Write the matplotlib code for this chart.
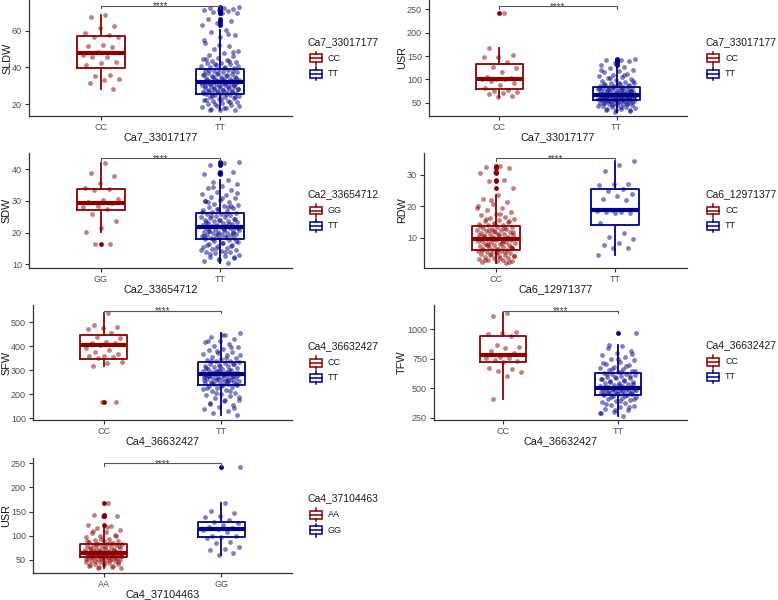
import matplotlib
matplotlib.use('Agg')
import matplotlib.pyplot as plt
from matplotlib.patches import Rectangle
from matplotlib.lines import Line2D

plt.rcParams['font.family'] = ['Liberation Sans', 'DejaVu Sans']

RED = '#8B0000'
BLUE = '#00008B'

# ---------------- data ----------------
# Panel 1: SLDW by Ca7_33017177
p1_snp = 'Ca7_33017177'
p1_trait = 'SLDW'
p1_geno = ['CC', 'TT']
p1_cc = [68.5, 67.6, 62.5, 61.6, 58.9, 57.6, 56.7, 56.3, 52.4, 51.6, 51.2, 48.5, 46.7, 45.8,
         45.5, 43.1, 42.2, 41.3, 36.0, 35.3, 33.8, 33.1, 31.3, 28.0]
p1_tt = [72.8, 72.5, 72.2, 71.8, 71.5, 71.0, 70.6, 70.2, 69.8, 69.4, 66.2, 65.5, 64.1, 62.9,
         60.5, 59.2, 57.8, 56.3, 53.5, 51.7, 50.2, 49.0, 47.6, 46.8, 46.0, 45.3,
         44.8, 44.1, 43.6, 43.0, 42.6, 42.1, 41.7, 41.2, 40.8, 40.4, 40.0, 39.6,
         39.1, 38.7, 38.3, 38.0, 37.6, 37.2, 36.9, 36.5, 36.1, 35.8, 35.4, 35.1, 34.8, 34.5,
         34.2, 33.9, 33.6, 33.3, 33.1, 32.8, 32.6, 32.4, 32.2, 32.0, 31.9,
         31.7, 31.5, 31.2, 31.0, 30.7, 30.4, 30.1, 29.8, 29.5, 29.2, 28.9, 28.6, 28.3, 28.0,
         27.7, 27.4, 27.1, 26.9, 26.6, 26.4, 26.1, 25.9, 25.7, 25.5,
         25.1, 24.8, 24.4, 24.0, 23.6, 23.2, 22.7, 22.3, 21.8, 21.4, 20.9, 20.4, 19.9, 19.4,
         18.8, 18.2, 17.7, 17.2, 16.8, 16.5,
         44.5, 43.3, 41.9, 40.6, 39.4, 38.5, 37.8, 37.0, 36.3, 35.6, 34.9, 34.3, 33.7, 33.2,
         32.7, 32.3, 31.8, 31.4, 30.9, 30.5, 30.0, 29.6, 29.1, 28.7, 28.2, 27.8, 27.3, 26.8,
         26.3, 25.8, 25.4, 24.6, 23.8, 23.0, 22.1, 21.2, 20.2, 19.1, 18.0, 17.0, 48.3, 52.4,
         55.1, 58.4]
p1_box = [(28.0, 39.8, 48.0, 57.2, 68.5), (16.5, 25.3, 31.8, 39.3, 60.5)]
p1_out = [[], [62.9, 64.1, 65.5, 66.2, 69.4, 69.8, 70.2, 70.6, 71.0, 71.5, 71.8, 72.2, 72.5, 72.8]]

# Panel 2: USR by Ca7_33017177
p2_snp = 'Ca7_33017177'
p2_trait = 'USR'
p2_geno = ['CC', 'TT']
p2_cc = [242.7, 166.5, 153, 148.5, 147, 138, 127, 123.5, 116.5, 104, 102, 101.4, 101, 100,
         97, 91.4, 88, 80.7, 77, 75.7, 73.6, 71, 68.6, 64, 63]
p2_tt = [143.5, 142, 140.5, 139, 136, 131,
         127, 124, 121, 118, 115, 112, 109.5, 107, 104.5, 102, 100, 98, 96, 94.5, 93, 91.5,
         90, 88.5, 87.3, 86, 85,
         84, 83.2, 82.4, 81.6, 80.8, 80, 79.2, 78.4, 77.6, 76.8, 76, 75.2, 74.4, 73.6, 72.8,
         72, 71.3, 70.6, 69.9, 69.2, 68.6, 68, 67.4, 66.9,
         66.2, 65.7, 65.2, 64.7, 64.2, 63.7, 63.2, 62.7, 62.2, 61.7, 61.2, 60.7, 60.2, 59.7,
         59.2, 58.7, 58.2, 57.7, 57.2, 56.7, 56.2,
         55.4, 54.8, 54.1, 53.4, 52.6, 51.8, 51, 50.1, 49.2, 48.3, 47.3, 46.3, 45.2, 44,
         42.7, 41.3, 39.8, 38.2, 36.5, 34.6, 32.8, 31,
         120, 110, 103, 97, 92, 89, 85.5, 83.5, 81, 78.8, 76.4, 74, 71.6, 69.5, 67.6, 65.9,
         64.5, 63, 61.5, 60, 58.5, 57, 55.8, 54.5, 52, 50.5, 48.8, 47, 45, 43, 40.5, 37.5,
         35, 33.5]
p2_box = [(63, 78.7, 100, 132, 166.5), (31, 55.8, 66.5, 84.3, 127)]
p2_out = [[242.7], [131, 136, 139, 140.5, 142, 143.5]]

# Panel 3: SDW by Ca2_33654712
p3_snp = 'Ca2_33654712'
p3_trait = 'SDW'
p3_geno = ['GG', 'TT']
p3_gg = [41.9, 38.9, 37.7, 35.6, 34.2, 33.7, 33.5, 30.5, 30.2, 29.5, 29.3, 28.4, 28.2, 27.4,
         25.7, 23.5, 21.4, 20.3, 16.3, 16.3]
p3_tt = [42.4, 41.9, 41.4, 39.2, 38.9, 38.4,
         36.5, 35.8, 35.2, 34.6, 34.0, 33.4, 32.9, 32.3, 31.8, 31.3, 30.8, 30.3, 29.9, 29.5,
         29.1, 28.7, 28.3, 27.9, 27.6, 27.3, 27.0, 26.7, 26.5,
         26.1, 25.9, 25.7, 25.5, 25.2, 25.0, 24.8, 24.6, 24.3, 24.1, 23.9, 23.7, 23.5, 23.3,
         23.1, 22.9, 22.7, 22.5, 22.3, 22.1, 21.9, 21.8,
         21.6, 21.4, 21.3, 21.1, 20.9, 20.8, 20.6, 20.4, 20.3, 20.1, 19.9, 19.8, 19.6, 19.4,
         19.3, 19.1, 18.9, 18.8, 18.6, 18.4, 18.3, 18.2,
         17.9, 17.6, 17.3, 17.0, 16.7, 16.4, 16.1, 15.8, 15.5, 15.2, 14.9, 14.6, 14.3, 14.0,
         13.7, 13.4, 13.0, 12.6, 12.2, 11.8, 11.4, 11.0, 10.5,
         34.3, 32.6, 31.0, 29.7, 28.5, 27.4, 26.6, 25.8, 25.1, 24.4, 23.8, 23.2, 22.6, 22.0,
         21.5, 21.0, 20.5, 20.0, 19.5, 19.0, 18.5, 18.0, 17.4, 16.8, 16.2, 15.6, 15.0, 14.4,
         13.8, 13.2, 12.4, 11.6, 30.0, 28.0]
p3_box = [(20.3, 27.2, 29.4, 33.8, 41.9), (10.5, 18.1, 21.7, 26.3, 36.5)]
p3_out = [[16.3], [38.4, 38.9, 39.2, 41.4, 41.9, 42.4]]

# Panel 4: RDW by Ca6_12971377
p4_snp = 'Ca6_12971377'
p4_trait = 'RDW'
p4_geno = ['CC', 'TT']
p4_cc = [33.0, 32.6, 32.1, 30.9, 30.5, 28.5, 28.2, 25.8,
         23.6, 22.4, 21.5, 20.7, 20.0, 19.3, 18.7, 18.1, 17.6, 17.1, 16.7, 16.3, 15.9, 15.6,
         15.3, 15.0, 14.7, 14.4, 14.1, 13.9,
         13.5, 13.3, 13.1, 12.9, 12.7, 12.5, 12.3, 12.1, 11.9, 11.7, 11.5, 11.3, 11.1, 10.9,
         10.7, 10.5, 10.3, 10.1, 9.9, 9.7,
         9.5, 9.3, 9.1, 8.9, 8.7, 8.5, 8.3, 8.1, 7.9, 7.7, 7.5, 7.3, 7.1, 6.9, 6.7, 6.5, 6.3, 6.2,
         6.0, 5.8, 5.6, 5.4, 5.2, 5.0, 4.8, 4.6, 4.4, 4.2, 4.0, 3.8, 3.6, 3.4, 3.2, 3.0, 2.8,
         2.6, 2.4, 2.2, 2.0,
         22.0, 19.6, 17.4, 16.0, 15.2, 14.5, 13.8, 13.0, 12.4, 11.8, 11.2, 10.6, 10.0, 9.4,
         8.8, 8.2, 7.6, 7.0, 6.4, 5.9, 5.3, 4.7, 4.1, 3.5, 2.9, 2.3, 12.0, 10.8, 9.0, 7.8,
         6.6, 5.5]
p4_tt = [34.3, 33.2, 31.4, 27.1, 27.1, 26.8, 25.4, 25.0, 23.9, 23.3, 22.2, 22.0, 18.8, 18.5,
         18.3, 18.3, 18.0, 18.0, 14.8, 11.6, 10.1, 9.7, 8.4, 7.7, 6.6, 6.6, 4.5]
p4_box = [(2.0, 6.1, 9.6, 13.7, 23.6), (4.5, 14.0, 18.7, 25.4, 34.3)]
p4_out = [[25.8, 28.2, 28.5, 30.5, 30.9, 32.1, 32.6, 33.0], []]

# Panel 5: SFW by Ca4_36632427
p5_snp = 'Ca4_36632427'
p5_trait = 'SFW'
p5_geno = ['CC', 'TT']
p5_cc = [540, 489, 482, 475, 471, 457, 440, 433, 419, 412, 412, 406, 392, 385, 378, 368,
         361, 360, 357, 350, 336, 332, 318, 167, 167]
p5_tt = [454, 447, 440, 432, 424, 417, 410, 403, 396, 390, 384, 378, 372, 367, 362, 357, 352,
         348, 344, 340, 337, 335,
         331, 328, 325, 322, 319, 316, 313, 310, 307, 304, 301, 298, 296, 294, 292, 290, 288,
         286, 285, 284,
         282, 280, 278, 276, 274, 272, 270, 268, 266, 264, 262, 260, 258, 256, 254, 252, 250,
         248, 246, 244, 242, 240,
         237, 233, 229, 225, 221, 217, 212, 207, 202, 197, 191, 185, 178, 171, 164, 156, 148,
         140, 131, 122, 115,
         445, 420, 398, 380, 365, 350, 338, 326, 318, 309, 300, 293, 287, 281, 277, 271, 265,
         259, 253, 247, 241, 235, 226, 215, 204, 190, 175, 160, 145, 300, 280, 260]
p5_box = [(318, 346, 404, 447, 540), (115, 239, 283, 333, 454)]
p5_out = [[167], []]

# Panel 6: TFW by Ca4_36632427
p6_snp = 'Ca4_36632427'
p6_trait = 'TFW'
p6_geno = ['CC', 'TT']
p6_cc = [1141, 1108, 981, 967, 959, 939, 868, 853, 840, 812, 798, 769, 761, 756, 741, 733,
         727, 671, 662, 650, 642, 608, 408]
p6_tt = [966,
         855, 838, 820, 802, 785, 768, 752, 737, 722, 708, 695, 683, 672, 662, 653, 645, 638, 632,
         626, 619, 612, 605, 598, 591, 584, 577, 570, 563, 556, 549, 542, 536, 530, 524, 518,
         513, 509,
         503, 499, 495, 491, 487, 483, 479, 475, 471, 467, 463, 459, 455, 451, 447, 444,
         437, 429, 421, 412, 403, 394, 384, 374, 363, 352, 340, 328, 315, 302, 288, 271,
         870, 790, 745, 715, 690, 666, 648, 635, 622, 608, 594, 580, 566, 552, 539, 527, 515,
         504, 497, 489, 481, 473, 465, 457, 449, 440, 425, 408, 390, 368, 345, 320, 295]
p6_box = [(408, 723, 781, 943, 1141), (271, 441, 506, 630, 870)]
p6_out = [[], [966]]

# Panel 7: USR by Ca4_37104463
p7_snp = 'Ca4_37104463'
p7_trait = 'USR'
p7_geno = ['AA', 'GG']
p7_aa = [167, 143, 141.5, 140, 122,
         120, 116, 112, 108.5, 105, 102, 99, 96.5, 94, 92, 90, 88.5, 87, 85.5, 84, 83,
         82.3, 81.2, 80.1, 79, 77.9, 76.8, 75.7, 74.6, 73.5, 72.5, 71.5, 70.5, 69.6, 68.7,
         67.8, 66.9, 66.1, 65.4,
         64.8, 64.3, 63.8, 63.3, 62.8, 62.3, 61.8, 61.3, 60.8, 60.3, 59.8, 59.3, 58.8, 58.3,
         57.8, 57.3,
         56.6, 55.8, 55, 54.2, 53.4, 52.5, 51.6, 50.7, 49.7, 48.7, 47.6, 46.5, 45.3, 44, 42.6,
         41.1, 39.5, 37.8, 36, 34.2, 33,
         118, 110, 100, 93, 89, 85, 82, 79.5, 77, 74, 71, 69, 67.2, 65.8, 64.5, 63.5, 62.5,
         61.5, 60.5, 59.5, 58.5, 57.5, 56.2, 54.6, 53, 51, 49.2, 47, 45, 43.3, 40, 37, 35]
p7_gg = [241.5, 168.4, 151.2, 147.7, 140.9, 138.2, 132.6, 129.1, 127, 122.3, 118.8, 115.5,
         113.4, 112, 108.5, 99.6, 99.6, 98.1, 94.8, 87.8, 84.5, 77.5, 72.1, 70.7, 65.1, 60.3]
p7_box = [(33, 57, 65, 82.8, 120), (60.3, 98, 113.4, 129, 168.4)]
p7_out = [[122, 140, 141.5, 143, 167], [241.5]]

# ---------------- layout (pixels) ----------------
W, H = 778, 600
fig = plt.figure(figsize=(W / 100, H / 100), dpi=100)

panels = [
    dict(snp=p1_snp, trait=p1_trait, geno=p1_geno, vals=[p1_cc, p1_tt], box=p1_box, out=p1_out,
         rect=(29, 0, 292, 116), ylim=(13.46, 76.7), yticks=[20, 40, 60], br=73.6,
         ylx=7, leg=(308, 41.7)),
    dict(snp=p2_snp, trait=p2_trait, geno=p2_geno, vals=[p2_cc, p2_tt], box=p2_box, out=p2_out,
         rect=(429, 0, 687, 116), ylim=(21.5, 270), yticks=[50, 100, 150, 200, 250], br=257,
         ylx=402, leg=(705, 41.7)),
    dict(snp=p3_snp, trait=p3_trait, geno=p3_geno, vals=[p3_gg, p3_tt], box=p3_box, out=p3_out,
         rect=(29, 153, 292, 268), ylim=(8.8, 45.1), yticks=[10, 20, 30, 40], br=43.5,
         ylx=6, leg=(308, 194)),
    dict(snp=p4_snp, trait=p4_trait, geno=p4_geno, vals=[p4_cc, p4_tt], box=p4_box, out=p4_out,
         rect=(424, 153, 687, 268), ylim=(0.3, 37.0), yticks=[10, 20, 30], br=35.3,
         ylx=402, leg=(705, 194)),
    dict(snp=p5_snp, trait=p5_trait, geno=p5_geno, vals=[p5_cc, p5_tt], box=p5_box, out=p5_out,
         rect=(33, 305, 292, 420), ylim=(93, 572), yticks=[100, 200, 300, 400, 500], br=548,
         ylx=6, leg=(308, 346)),
    dict(snp=p6_snp, trait=p6_trait, geno=p6_geno, vals=[p6_cc, p6_tt], box=p6_box, out=p6_out,
         rect=(434, 305, 687, 420), ylim=(233, 1205), yticks=[250, 500, 750, 1000], br=1158,
         ylx=402, leg=(705, 345)),
    dict(snp=p7_snp, trait=p7_trait, geno=p7_geno, vals=[p7_aa, p7_gg], box=p7_box, out=p7_out,
         rect=(33, 458, 292, 573), ylim=(23, 261), yticks=[50, 100, 150, 200, 250], br=250,
         ylx=6, leg=(308, 498.3)),
]

COLORS = [RED, BLUE]
AXC = '#333333'
TICKC = '#4D4D4D'


def fxy(x, y):
    return x / W, 1 - y / H


def jitter(n, k):
    # deterministic low-discrepancy horizontal spread
    return [(((i + 1) * 0.6180339887 + 0.37 * k) % 1.0 - 0.5) * 0.32 for i in range(n)]


for p in panels:
    l, t, r, b = p['rect']
    ax = fig.add_axes([l / W, 1 - b / H, (r - l) / W, (b - t) / H])
    ax.set_xlim(0.4, 2.6)
    ax.set_ylim(*p['ylim'])
    for k in range(2):
        c = COLORS[k]
        wl, q1, med, q3, wh = p['box'][k]
        stats = [dict(med=med, q1=q1, q3=q3, whislo=wl, whishi=wh, fliers=[])]
        ax.bxp(stats, positions=[k + 1], widths=0.4, showcaps=False, showfliers=False,
               boxprops=dict(color=c, lw=1.3),
               whiskerprops=dict(color=c, lw=1.3),
               medianprops=dict(color=c, lw=3.0, solid_capstyle='butt'))
        if p['out'][k]:
            ax.scatter([k + 1] * len(p['out'][k]), p['out'][k], s=12, color=c, lw=0, zorder=3)
        v = p['vals'][k]
        xs = [k + 1 + d for d in jitter(len(v), k)]
        ax.scatter(xs, v, s=12, color=c, alpha=0.5, lw=0, zorder=4)
    # significance bracket
    yr = p['ylim'][1] - p['ylim'][0]
    tip = yr / (b - t) * 2.6
    y = p['br']
    ax.plot([1, 1, 2, 2], [y - tip, y, y, y - tip], color='#555555', lw=0.8,
            clip_on=False, zorder=5)
    ax.annotate('****', xy=(1.5, y), xytext=(0, -2.6), textcoords='offset points',
                ha='center', va='baseline', fontsize=7, color='#444444', annotation_clip=False)
    # axes styling
    for s in ['top', 'right']:
        ax.spines[s].set_visible(False)
    for s in ['left', 'bottom']:
        ax.spines[s].set_color(AXC)
        ax.spines[s].set_linewidth(0.9)
    ax.set_xticks([1, 2])
    ax.set_xticklabels(p['geno'])
    ax.set_yticks(p['yticks'])
    ax.tick_params(length=3, width=0.8, color=AXC, labelsize=6.5, labelcolor=TICKC, pad=2)
    # axis titles
    fig.text(*fxy((l + r) / 2, b + 21), p['snp'], ha='center', va='center', fontsize=7.8,
             color='#1a1a1a')
    fig.text(*fxy(p['ylx'], (t + b) / 2), p['trait'], ha='center', va='center', rotation=90,
             fontsize=7.8, color='#1a1a1a')
    # legend
    lx, ly = p['leg']
    fig.text(*fxy(lx, ly), p['snp'], ha='left', va='center', fontsize=7.5, color='#1a1a1a')
    for k in range(2):
        c = COLORS[k]
        cy = ly + 16.5 + 15.3 * k
        kx = lx + 2
        x0, y0 = fxy(kx, cy + 4)
        x1, y1 = fxy(kx + 12, cy - 4)
        fig.add_artist(Rectangle((x0, y0), x1 - x0, y1 - y0, transform=fig.transFigure,
                                 fill=False, ec=c, lw=1.1))
        xa, ya = fxy(kx, cy)
        xb, _ = fxy(kx + 12, cy)
        fig.add_artist(Line2D([xa, xb], [ya, ya], transform=fig.transFigure, color=c, lw=1.1))
        xm, yt = fxy(kx + 6, cy - 6.5)
        _, yt2 = fxy(kx + 6, cy - 4)
        _, yb = fxy(kx + 6, cy + 6.5)
        _, yb2 = fxy(kx + 6, cy + 4)
        fig.add_artist(Line2D([xm, xm], [yt, yt2], transform=fig.transFigure, color=c, lw=1.1))
        fig.add_artist(Line2D([xm, xm], [yb, yb2], transform=fig.transFigure, color=c, lw=1.1))
        fig.text(*fxy(kx + 18, cy), p['geno'][k], ha='left', va='center', fontsize=6.5,
                 color='#1a1a1a')

fig.savefig('out.png', dpi=100)
